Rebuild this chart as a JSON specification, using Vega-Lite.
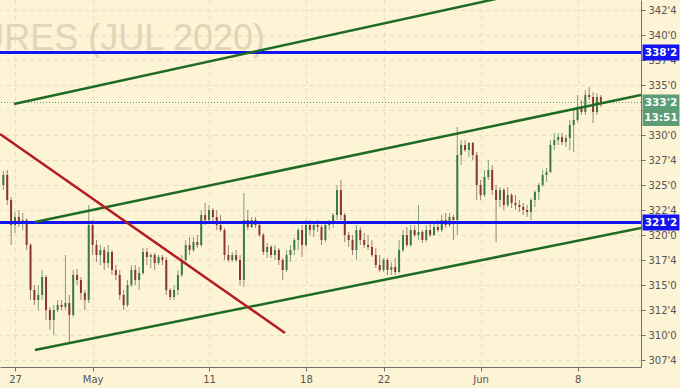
{
  "$schema": "https://vega.github.io/schema/vega-lite/v6.json",
  "width": 641,
  "height": 367,
  "autosize": {"type": "none"},
  "padding": {"left": 0, "top": 0, "right": 39, "bottom": 21},
  "background": "#fdf3d5",
  "config": {"view": {"stroke": null}, "axis": {"labelOverlap": false, "labelFlush": false, "labelBound": false}},
  "datasets": {
    "candles": [
      {"x":-0.6,"o":325.0,"h":326.4,"l":324.5,"c":326.0},
      {"x":-0.4,"o":326.0,"h":326.5,"l":323.0,"c":323.5},
      {"x":-0.2,"o":323.5,"h":323.8,"l":319.0,"c":321.0},
      {"x":0.0,"o":321.0,"h":322.3,"l":320.2,"c":321.8},
      {"x":0.2,"o":321.8,"h":322.5,"l":320.8,"c":321.3},
      {"x":0.4,"o":321.3,"h":322.2,"l":320.5,"c":321.5},
      {"x":0.6,"o":321.5,"h":321.7,"l":318.5,"c":319.0},
      {"x":0.8,"o":319.0,"h":319.2,"l":313.5,"c":314.5},
      {"x":1.0,"o":314.5,"h":315.0,"l":313.0,"c":313.5},
      {"x":1.2,"o":313.5,"h":315.0,"l":312.5,"c":314.0},
      {"x":1.4,"o":314.0,"h":316.5,"l":313.5,"c":315.8},
      {"x":1.6,"o":315.8,"h":316.0,"l":311.5,"c":312.5},
      {"x":1.8,"o":312.5,"h":312.8,"l":310.5,"c":311.5},
      {"x":2.0,"o":311.5,"h":313.0,"l":310.0,"c":312.5},
      {"x":2.2,"o":312.5,"h":313.5,"l":312.3,"c":313.0},
      {"x":2.4,"o":313.0,"h":313.5,"l":312.5,"c":312.8},
      {"x":2.6,"o":312.8,"h":318.0,"l":312.5,"c":313.2},
      {"x":2.8,"o":313.2,"h":314.0,"l":309.3,"c":312.0},
      {"x":3.0,"o":312.0,"h":316.5,"l":311.8,"c":316.0},
      {"x":3.2,"o":316.0,"h":316.6,"l":315.0,"c":315.5},
      {"x":3.4,"o":315.5,"h":315.8,"l":313.5,"c":314.2},
      {"x":3.6,"o":314.2,"h":314.5,"l":312.5,"c":313.5},
      {"x":3.8,"o":313.5,"h":323.0,"l":313.2,"c":321.0},
      {"x":4.0,"o":321.0,"h":321.5,"l":318.0,"c":319.0},
      {"x":4.2,"o":319.0,"h":319.5,"l":317.3,"c":318.0},
      {"x":4.4,"o":318.0,"h":319.0,"l":317.0,"c":318.5},
      {"x":4.6,"o":318.5,"h":318.8,"l":316.5,"c":317.2},
      {"x":4.8,"o":317.2,"h":319.0,"l":316.7,"c":318.3},
      {"x":5.0,"o":318.3,"h":318.5,"l":316.0,"c":316.5},
      {"x":5.2,"o":316.5,"h":317.0,"l":315.5,"c":316.0},
      {"x":5.4,"o":316.0,"h":316.5,"l":313.5,"c":314.0},
      {"x":5.6,"o":314.0,"h":314.5,"l":312.5,"c":313.0},
      {"x":5.8,"o":313.0,"h":315.5,"l":312.8,"c":315.0},
      {"x":6.0,"o":315.0,"h":317.0,"l":314.8,"c":316.5},
      {"x":6.2,"o":316.5,"h":317.0,"l":315.0,"c":315.5},
      {"x":6.4,"o":315.5,"h":316.8,"l":314.5,"c":316.2},
      {"x":6.6,"o":316.2,"h":318.7,"l":316.0,"c":318.3},
      {"x":6.8,"o":318.3,"h":318.7,"l":317.0,"c":317.8},
      {"x":7.0,"o":317.8,"h":318.2,"l":316.7,"c":318.0},
      {"x":7.2,"o":318.0,"h":318.2,"l":316.5,"c":317.2},
      {"x":7.4,"o":317.2,"h":318.0,"l":317.0,"c":317.8},
      {"x":7.6,"o":317.8,"h":318.0,"l":317.0,"c":317.5},
      {"x":7.8,"o":317.5,"h":317.8,"l":314.0,"c":314.5},
      {"x":8.0,"o":314.5,"h":314.7,"l":313.5,"c":313.8},
      {"x":8.2,"o":313.8,"h":315.0,"l":313.5,"c":314.5},
      {"x":8.4,"o":314.5,"h":316.5,"l":314.0,"c":316.0},
      {"x":8.6,"o":316.0,"h":318.0,"l":315.8,"c":317.5},
      {"x":8.8,"o":317.5,"h":319.5,"l":317.3,"c":319.0},
      {"x":9.0,"o":319.0,"h":319.8,"l":318.0,"c":318.5},
      {"x":9.2,"o":318.5,"h":319.8,"l":318.3,"c":319.3},
      {"x":9.4,"o":319.3,"h":320.0,"l":318.7,"c":319.0},
      {"x":9.6,"o":319.0,"h":322.5,"l":318.8,"c":322.0},
      {"x":9.8,"o":322.0,"h":323.2,"l":321.0,"c":321.5},
      {"x":10.0,"o":321.5,"h":323.0,"l":321.3,"c":322.5},
      {"x":10.2,"o":322.5,"h":322.7,"l":321.3,"c":321.8},
      {"x":10.4,"o":321.8,"h":322.5,"l":320.5,"c":321.0},
      {"x":10.6,"o":321.0,"h":322.0,"l":320.3,"c":320.5},
      {"x":10.8,"o":320.5,"h":320.7,"l":317.5,"c":318.0},
      {"x":11.0,"o":318.0,"h":319.0,"l":317.3,"c":317.5},
      {"x":11.2,"o":317.5,"h":318.3,"l":317.3,"c":318.0},
      {"x":11.4,"o":318.0,"h":318.5,"l":317.3,"c":317.5},
      {"x":11.6,"o":317.5,"h":318.0,"l":315.0,"c":315.5},
      {"x":11.8,"o":315.5,"h":324.2,"l":314.8,"c":321.5},
      {"x":12.0,"o":321.5,"h":322.5,"l":320.5,"c":320.8},
      {"x":12.2,"o":320.8,"h":321.8,"l":320.7,"c":321.5},
      {"x":12.4,"o":321.5,"h":321.8,"l":320.7,"c":321.0},
      {"x":12.6,"o":321.0,"h":321.3,"l":319.8,"c":320.0},
      {"x":12.8,"o":320.0,"h":320.2,"l":318.0,"c":318.3},
      {"x":13.0,"o":318.3,"h":319.2,"l":317.7,"c":318.8},
      {"x":13.2,"o":318.8,"h":319.0,"l":317.7,"c":318.0},
      {"x":13.4,"o":318.0,"h":319.0,"l":317.5,"c":318.5},
      {"x":13.6,"o":318.5,"h":318.7,"l":317.0,"c":317.5},
      {"x":13.8,"o":317.5,"h":317.7,"l":315.5,"c":316.5},
      {"x":14.0,"o":316.5,"h":318.5,"l":316.3,"c":318.0},
      {"x":14.2,"o":318.0,"h":319.0,"l":317.3,"c":318.5},
      {"x":14.4,"o":318.5,"h":319.7,"l":318.0,"c":319.5},
      {"x":14.6,"o":319.5,"h":320.7,"l":318.5,"c":320.5},
      {"x":14.8,"o":320.5,"h":321.0,"l":317.8,"c":319.0},
      {"x":15.0,"o":319.0,"h":321.5,"l":318.8,"c":321.0},
      {"x":15.2,"o":321.0,"h":321.5,"l":320.0,"c":320.5},
      {"x":15.4,"o":320.5,"h":321.3,"l":319.8,"c":321.0},
      {"x":15.6,"o":321.0,"h":321.5,"l":320.3,"c":320.8},
      {"x":15.8,"o":320.8,"h":321.0,"l":319.0,"c":319.5},
      {"x":16.0,"o":319.5,"h":321.3,"l":319.3,"c":321.0},
      {"x":16.2,"o":321.0,"h":321.5,"l":320.5,"c":321.3},
      {"x":16.4,"o":321.3,"h":322.2,"l":320.7,"c":322.0},
      {"x":16.6,"o":322.0,"h":325.0,"l":321.5,"c":324.5},
      {"x":16.8,"o":324.5,"h":325.5,"l":321.5,"c":322.0},
      {"x":17.0,"o":322.0,"h":322.2,"l":319.3,"c":320.0},
      {"x":17.2,"o":320.0,"h":320.3,"l":318.8,"c":319.5},
      {"x":17.4,"o":319.5,"h":320.0,"l":318.0,"c":318.5},
      {"x":17.6,"o":318.5,"h":321.0,"l":317.5,"c":320.5},
      {"x":17.8,"o":320.5,"h":320.8,"l":319.0,"c":319.5},
      {"x":18.0,"o":319.5,"h":320.2,"l":318.7,"c":319.0},
      {"x":18.2,"o":319.0,"h":320.0,"l":318.5,"c":318.8},
      {"x":18.4,"o":318.8,"h":319.5,"l":317.8,"c":318.0},
      {"x":18.6,"o":318.0,"h":318.7,"l":316.7,"c":317.0},
      {"x":18.8,"o":317.0,"h":318.0,"l":316.3,"c":316.5},
      {"x":19.0,"o":316.5,"h":317.7,"l":316.3,"c":317.5},
      {"x":19.2,"o":317.5,"h":317.7,"l":316.0,"c":316.5},
      {"x":19.4,"o":316.5,"h":317.3,"l":316.0,"c":316.8},
      {"x":19.6,"o":316.8,"h":317.7,"l":316.0,"c":316.3},
      {"x":19.8,"o":316.3,"h":319.5,"l":316.2,"c":318.5},
      {"x":20.0,"o":318.5,"h":320.5,"l":318.3,"c":320.0},
      {"x":20.2,"o":320.0,"h":320.8,"l":318.8,"c":319.0},
      {"x":20.4,"o":319.0,"h":321.0,"l":318.8,"c":320.5},
      {"x":20.6,"o":320.5,"h":321.0,"l":319.8,"c":320.0},
      {"x":20.8,"o":320.0,"h":323.0,"l":319.5,"c":320.3},
      {"x":21.0,"o":320.3,"h":320.5,"l":319.2,"c":319.5},
      {"x":21.2,"o":319.5,"h":321.0,"l":319.3,"c":320.5},
      {"x":21.4,"o":320.5,"h":321.3,"l":319.8,"c":320.0},
      {"x":21.6,"o":320.0,"h":321.3,"l":319.9,"c":320.8},
      {"x":21.8,"o":320.8,"h":321.5,"l":320.3,"c":320.5},
      {"x":22.0,"o":320.5,"h":322.0,"l":320.3,"c":321.5},
      {"x":22.2,"o":321.5,"h":322.2,"l":320.7,"c":321.0},
      {"x":22.4,"o":321.0,"h":322.2,"l":320.8,"c":321.8},
      {"x":22.6,"o":321.8,"h":322.0,"l":319.5,"c":321.5},
      {"x":22.8,"o":321.5,"h":330.8,"l":320.0,"c":328.0},
      {"x":23.0,"o":328.0,"h":329.5,"l":327.0,"c":329.0},
      {"x":23.2,"o":329.0,"h":329.5,"l":328.3,"c":328.5},
      {"x":23.4,"o":328.5,"h":329.3,"l":327.8,"c":329.2},
      {"x":23.6,"o":329.2,"h":329.3,"l":327.5,"c":328.0},
      {"x":23.8,"o":328.0,"h":328.3,"l":323.5,"c":325.0},
      {"x":24.0,"o":325.0,"h":325.5,"l":323.5,"c":324.0},
      {"x":24.2,"o":324.0,"h":326.5,"l":323.8,"c":325.8},
      {"x":24.4,"o":325.8,"h":327.5,"l":325.5,"c":326.5},
      {"x":24.6,"o":326.5,"h":327.0,"l":324.0,"c":324.5},
      {"x":24.8,"o":324.5,"h":325.0,"l":319.3,"c":323.5},
      {"x":25.0,"o":323.5,"h":324.8,"l":322.8,"c":324.5},
      {"x":25.2,"o":324.5,"h":324.7,"l":322.5,"c":323.0},
      {"x":25.4,"o":323.0,"h":324.8,"l":322.8,"c":324.0},
      {"x":25.6,"o":324.0,"h":324.2,"l":322.7,"c":323.2},
      {"x":25.8,"o":323.2,"h":324.0,"l":322.5,"c":323.0},
      {"x":26.0,"o":323.0,"h":323.5,"l":322.3,"c":322.8},
      {"x":26.2,"o":322.8,"h":323.2,"l":322.0,"c":322.5},
      {"x":26.4,"o":322.5,"h":323.0,"l":321.8,"c":322.3},
      {"x":26.6,"o":322.3,"h":323.7,"l":321.5,"c":323.5},
      {"x":26.8,"o":323.5,"h":324.5,"l":322.8,"c":324.3},
      {"x":27.0,"o":324.3,"h":325.2,"l":323.5,"c":325.0},
      {"x":27.2,"o":325.0,"h":326.5,"l":324.8,"c":326.0},
      {"x":27.4,"o":326.0,"h":326.7,"l":325.3,"c":326.3},
      {"x":27.6,"o":326.3,"h":329.5,"l":326.2,"c":329.0},
      {"x":27.8,"o":329.0,"h":330.2,"l":328.5,"c":329.5},
      {"x":28.0,"o":329.5,"h":330.2,"l":329.0,"c":329.8},
      {"x":28.2,"o":329.8,"h":330.2,"l":329.0,"c":329.3},
      {"x":28.4,"o":329.3,"h":330.0,"l":328.8,"c":329.7},
      {"x":28.6,"o":329.7,"h":331.5,"l":328.5,"c":331.0},
      {"x":28.8,"o":331.0,"h":332.5,"l":328.3,"c":331.5},
      {"x":29.0,"o":331.5,"h":334.0,"l":331.3,"c":332.8},
      {"x":29.2,"o":332.8,"h":333.5,"l":332.0,"c":332.3},
      {"x":29.4,"o":332.3,"h":334.5,"l":332.0,"c":334.0},
      {"x":29.6,"o":334.0,"h":334.8,"l":333.5,"c":333.8},
      {"x":29.8,"o":333.8,"h":334.3,"l":331.2,"c":332.3},
      {"x":30.0,"o":332.3,"h":334.2,"l":332.0,"c":333.8},
      {"x":30.2,"o":333.8,"h":334.0,"l":332.8,"c":333.25}
    ],
    "levels": [{"v": 338.25}, {"v": 321.25}],
    "price": [{"v": 333.25}],
    "trend": [
      {"id": "upper", "x": -0.05, "y": 333.1},
      {"id": "upper", "x": 28.09, "y": 345.0},
      {"id": "middle", "x": 1.03, "y": 321.3},
      {"id": "middle", "x": 32.27, "y": 334.0},
      {"id": "lower", "x": 1.03, "y": 308.5},
      {"id": "lower", "x": 32.27, "y": 320.7},
      {"id": "red", "x": -0.773, "y": 330.1},
      {"id": "red", "x": 13.92, "y": 310.2}
    ],
    "tags": [
      {"v": 338.25, "label": "338'2", "kind": "blue"},
      {"v": 321.25, "label": "321'2", "kind": "blue"},
      {"v": 333.25, "label": "333'2", "kind": "green"},
      {"v": 331.7, "label": "13:51", "kind": "green"}
    ],
    "wm": [{"t": "CORN FUTURES (JUL 2020)"}]
  },
  "layer": [
    {
      "data": {"name": "candles"},
      "mark": {"type": "rule", "strokeWidth": 1},
      "encoding": {
        "x": {"field": "x", "type": "quantitative", "title": null, "scale": {"domain": [-0.773, 32.27], "nice": false, "zero": false},
          "axis": {"orient": "bottom", "title": null, "values": [0, 4, 10, 15, 19, 24, 29], "tickCount": 40,
            "labelExpr": "datum.value == 0 ? '27' : datum.value == 4 ? 'May' : datum.value == 10 ? '11' : datum.value == 15 ? '18' : datum.value == 19 ? '22' : datum.value == 24 ? 'Jun' : '8'",
            "grid": true, "gridColor": "#e6dcc1", "gridDash": [4, 4], "domainColor": "#707070", "tickColor": "#707070", "tickSize": 4,
            "labelColor": "#555555", "labelFont": "DejaVu Sans", "labelFontSize": 10, "labelPadding": 3, "labelOverlap": false, "labelFlush": false}},
        "y": {"field": "l", "type": "quantitative", "title": null, "scale": {"domain": [306.8, 343.5], "nice": false, "zero": false},
          "axis": {"orient": "right", "title": null, "tickCount": 40,
            "values": [307.5, 310, 312.5, 315, 317.5, 320, 322.5, 325, 327.5, 330, 332.5, 335, 337.5, 340, 342.5],
            "labelExpr": "floor(datum.value) + \"'\" + (datum.value > floor(datum.value) ? '4' : '0')",
            "grid": true, "gridColor": "#e6dcc1", "gridDash": [4, 4], "domainColor": "#707070", "tickColor": "#707070", "tickSize": 4,
            "labelColor": "#555555", "labelFont": "DejaVu Sans", "labelFontSize": 10, "labelPadding": 3, "labelAlign": "left", "labelOverlap": false, "labelFlush": false, "labelBaseline": "middle"}},
        "y2": {"field": "h"},
        "color": {"condition": {"test": "datum.c >= datum.o", "value": "#7f9e84"}, "value": "#a27e78"}
      }
    },
    {
      "data": {"name": "wm"},
      "mark": {"type": "text", "align": "right", "baseline": "alphabetic", "font": "Liberation Sans", "fontSize": 36, "color": "#e0d5b6", "clip": true},
      "encoding": {
        "x": {"datum": 12.89, "type": "quantitative", "title": null},
        "y": {"datum": 338.5, "type": "quantitative", "title": null},
        "text": {"field": "t"}
      }
    },
    {
      "data": {"name": "candles"},
      "mark": {"type": "rule", "strokeWidth": 2},
      "encoding": {
        "x": {"field": "x", "type": "quantitative", "title": null},
        "y": {"field": "o", "type": "quantitative", "title": null},
        "y2": {"field": "c"},
        "color": {"condition": {"test": "datum.c >= datum.o", "value": "#3b7a44"}, "value": "#8a3434"}
      }
    },
    {
      "data": {"name": "price"},
      "mark": {"type": "rule", "strokeWidth": 1, "strokeDash": [1, 2], "color": "#5c9c76"},
      "encoding": {
        "y": {"field": "v", "type": "quantitative", "title": null}
      }
    },
    {
      "data": {"name": "levels"},
      "mark": {"type": "rule", "strokeWidth": 3, "color": "#1414f2"},
      "encoding": {
        "y": {"field": "v", "type": "quantitative", "title": null}
      }
    },
    {
      "data": {"name": "trend"},
      "mark": {"type": "line", "strokeWidth": 2.5, "clip": true},
      "encoding": {
        "x": {"field": "x", "type": "quantitative", "title": null},
        "y": {"field": "y", "type": "quantitative", "title": null},
        "detail": {"field": "id"},
        "color": {"condition": {"test": "datum.id == 'red'", "value": "#b31d1d"}, "value": "#1f6b24"}
      }
    },
    {
      "data": {"name": "tags"},
      "mark": {"type": "rect", "clip": false, "yOffset": -8, "y2Offset": 8},
      "encoding": {
        "x": {"datum": 32.35, "type": "quantitative", "title": null},
        "x2": {"datum": 34.25},
        "y": {"field": "v", "type": "quantitative", "title": null},
        "y2": {"field": "v"},
        "color": {"condition": {"test": "datum.kind == 'blue'", "value": "#1414f2"}, "value": "#5c9c76"}
      }
    },
    {
      "data": {"name": "tags"},
      "mark": {"type": "text", "clip": false, "color": "#ffffff", "font": "DejaVu Sans", "fontSize": 10.5, "fontWeight": "bold", "align": "center", "baseline": "middle"},
      "encoding": {
        "x": {"datum": 33.3, "type": "quantitative", "title": null},
        "y": {"field": "v", "type": "quantitative", "title": null},
        "text": {"field": "label"}
      }
    },
    {
      "mark": {"type": "rule", "clip": false, "color": "#707070", "strokeWidth": 1},
      "encoding": {
        "x": {"datum": 32.27, "type": "quantitative", "title": null},
        "x2": {"datum": 34.9},
        "y": {"datum": 306.8, "type": "quantitative", "title": null}
      }
    },
    {
      "mark": {"type": "rule", "clip": false, "color": "#707070", "strokeWidth": 1},
      "encoding": {
        "x": {"datum": 32.27, "type": "quantitative", "title": null},
        "y": {"datum": 306.8, "type": "quantitative", "title": null},
        "y2": {"datum": 304.5}
      }
    },
    {
      "mark": {"type": "text", "clip": false, "text": "☼", "color": "#3a3a3a", "font": "DejaVu Sans", "fontSize": 15, "align": "center", "baseline": "middle"},
      "encoding": {
        "x": {"datum": 33.35, "type": "quantitative", "title": null},
        "y": {"datum": 305.75, "type": "quantitative", "title": null}
      }
    }
  ]
}
